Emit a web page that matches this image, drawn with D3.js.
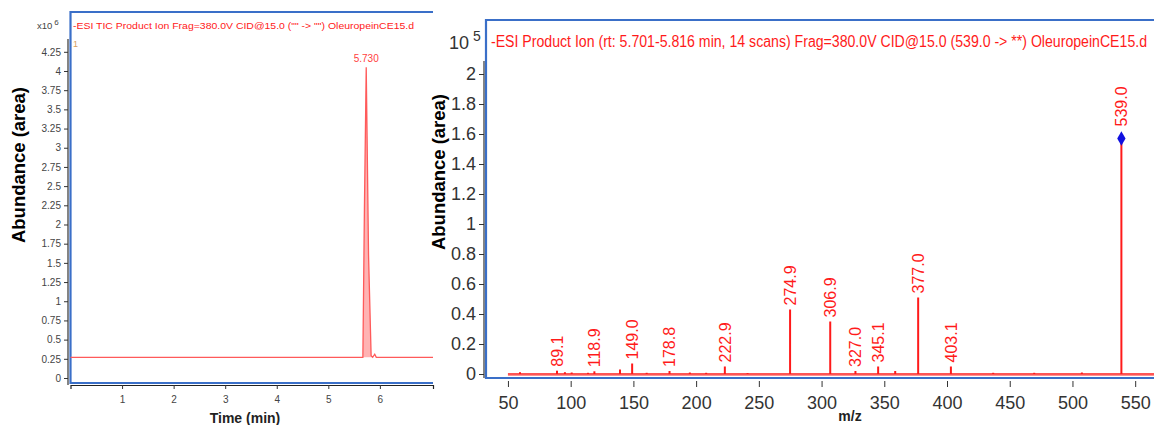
<!DOCTYPE html>
<html>
<head>
<meta charset="utf-8">
<script src="https://cdn.jsdelivr.net/npm/d3@7"></script>
<style>
  body { margin: 0; background: #fff; }
  svg { display: block; }
  .tl text { font-family: "Liberation Sans", Arial, sans-serif; font-size: 10px; fill: #444; }
  .tr text { font-family: "Liberation Sans Narrow", "Arial Narrow", sans-serif; font-size: 18px; fill: #333; }
  .tl line, .tr line { stroke: #333; }
</style>
</head>
<body>
<div id="chart"></div>
<script>
// left: TIC chromatogram (x10^6)
var ticTime  = [0, 5.67, 5.70, 5.735, 5.78, 5.83, 5.86, 5.90, 5.93, 7.03]
var ticAbund = [0.27, 0.27, 2.2, 4.05, 1.6, 0.29, 0.27, 0.31, 0.27, 0.27]
var ticYTicks = [0, 0.25, 0.5, 0.75, 1, 1.25, 1.5, 1.75, 2, 2.25, 2.5, 2.75, 3, 3.25, 3.5, 3.75, 4, 4.25]
var ticXTicks = [1, 2, 3, 4, 5, 6]

// right: product ion spectrum (x10^5)
var specMz  = [59.6, 89.1, 95.4, 100.8, 113.8, 118.9, 139.3, 149.0, 160.6, 178.8, 195.0, 208.0, 222.9, 241.0,
               274.9, 306.9, 327.0, 345.1, 358.7, 377.0, 403.1, 436.8, 469.5, 507.5, 539.0]
var specInt = [0.012, 0.022, 0.012, 0.01, 0.008, 0.018, 0.03, 0.07, 0.008, 0.02, 0.01, 0.008, 0.05, 0.006,
               0.43, 0.35, 0.02, 0.05, 0.02, 0.51, 0.05, 0.008, 0.008, 0.01, 1.57]
var labelMz = [89.1, 118.9, 149.0, 178.8, 222.9, 274.9, 306.9, 327.0, 345.1, 377.0, 403.1, 539.0]
var specYTicks = [0, 0.2, 0.4, 0.6, 0.8, 1, 1.2, 1.4, 1.6, 1.8, 2]
var specXTicks = [50, 100, 150, 200, 250, 300, 350, 400, 450, 500, 550]

var blue = "#3a6fc8", red = "#ff1a1a"

var svg = d3.select("#chart").append("svg")
    .attr("width", 1154).attr("height", 425)

// ---------- left panel ----------
var xL = d3.scaleLinear().domain([0, 7.03]).range([70.5, 433])
var yL = d3.scaleLinear().domain([0, 4.25]).range([378, 51.8])

svg.append("g").attr("class", "tl")
  .attr("transform", "translate(68,0)")
  .call(d3.axisLeft(yL).tickValues(ticYTicks).tickSize(4).tickSizeOuter(0).tickFormat(function(d){ return String(d) }))
  .call(function(g){ g.select(".domain").remove() })
svg.append("line").attr("x1", 68).attr("x2", 68).attr("y1", 39).attr("y2", 385).attr("stroke", "#333").attr("stroke-width", 1.2)

svg.append("g").attr("class", "tl")
  .attr("transform", "translate(0,385)")
  .call(d3.axisBottom(xL).tickValues(ticXTicks).tickSize(4).tickFormat(d3.format("d")))
  .call(function(g){ g.select(".domain").attr("stroke", "#222").attr("stroke-width", 1.2) })
  .selectAll("text").attr("dy", "1.1em")

// frame
svg.append("path").attr("fill", "none").attr("stroke", blue).attr("stroke-width", 2.2)
  .attr("d", "M433,12 H70.5 V383 H433")

// peak fill
var peakIdx = d3.range(1, 7)
svg.append("path")
  .datum(peakIdx)
  .attr("fill", "#ff9a9a").attr("fill-opacity", 0.75)
  .attr("d", d3.area().x(function(i){ return xL(ticTime[i]) }).y0(yL(0.27)).y1(function(i){ return yL(ticAbund[i]) }))

svg.append("path")
  .datum(d3.range(ticTime.length))
  .attr("fill", "none").attr("stroke", "#ff5a5a").attr("stroke-width", 1.3)
  .attr("d", d3.line().x(function(i){ return xL(ticTime[i]) }).y(function(i){ return yL(ticAbund[i]) }))

svg.append("text").attr("x", xL(5.735)).attr("y", yL(4.05) - 5)
  .attr("text-anchor", "middle").attr("font-family", "Liberation Sans, Arial").attr("font-size", 10)
  .attr("fill", "#ff4040").text("5.730")

svg.append("text").attr("x", 73).attr("y", 29).attr("font-family", "Liberation Sans, Arial")
  .attr("font-size", 9.5).attr("fill", "#ff2020")
  .attr("textLength", 341).attr("lengthAdjust", "spacingAndGlyphs")
  .text('-ESI TIC Product Ion Frag=380.0V CID@15.0 ("" -> "") OleuropeinCE15.d')
svg.append("text").attr("x", 73).attr("y", 47).attr("font-family", "Liberation Sans, Arial")
  .attr("font-size", 9).attr("fill", "#d8a060").text("1")

var expL = svg.append("text").attr("x", 37).attr("y", 29).attr("font-family", "Liberation Sans, Arial")
  .attr("font-size", 9.5).attr("fill", "#444")
expL.append("tspan").text("x10")
expL.append("tspan").attr("dx", 2).attr("dy", -4).attr("font-size", 8).text("6")

svg.append("text").attr("transform", "translate(25,165) rotate(-90)")
  .attr("text-anchor", "middle").attr("font-family", "Liberation Sans, Arial").attr("font-weight", "bold")
  .attr("font-size", 18).attr("textLength", 156).attr("lengthAdjust", "spacingAndGlyphs")
  .text("Abundance (area)")
svg.append("text").attr("x", 245).attr("y", 423)
  .attr("text-anchor", "middle").attr("font-family", "Liberation Sans, Arial").attr("font-weight", "bold")
  .attr("font-size", 14).attr("fill", "#222").text("Time (min)")

// ---------- right panel ----------
var xR = d3.scaleLinear().domain([32.5, 565]).range([486, 1154])
var yR = d3.scaleLinear().domain([0, 2]).range([374, 74])

svg.append("g").attr("class", "tr")
  .attr("transform", "translate(484,0)")
  .call(d3.axisLeft(yR).tickValues(specYTicks).tickSize(5).tickFormat(function(d){ return String(+d.toFixed(1)) }))
  .call(function(g){ g.select(".domain").remove() })
svg.append("line").attr("x1", 484).attr("x2", 484).attr("y1", 61).attr("y2", 378).attr("stroke", "#333").attr("stroke-width", 1.2)

svg.append("g").attr("class", "tr")
  .attr("transform", "translate(0,381)")
  .call(d3.axisBottom(xR).tickValues(specXTicks).tickSize(6).tickFormat(d3.format("d")))
  .call(function(g){ g.select(".domain").remove() })
  .selectAll("text").attr("dy", "1.05em")

svg.append("path").attr("fill", "none").attr("stroke", blue).attr("stroke-width", 2.2)
  .attr("d", "M1154,20 H486 V378 H1154")

// baseline band
svg.append("line").attr("x1", xR(50)).attr("x2", 1154).attr("y1", yR(0) + 0.5).attr("y2", yR(0) + 0.5)
  .attr("stroke", "#ff9090").attr("stroke-width", 3)
svg.append("line").attr("x1", xR(50)).attr("x2", 1154).attr("y1", yR(0)).attr("y2", yR(0))
  .attr("stroke", red).attr("stroke-width", 1)

svg.selectAll(".stick")
  .data(specMz)
  .enter()
  .append("line")
  .attr("class", "stick")
  .attr("x1", function(d){ return xR(d) }).attr("x2", function(d){ return xR(d) })
  .attr("y1", yR(0))
  .attr("y2", function(d, i){ return yR(specInt[i]) })
  .attr("stroke", red).attr("stroke-width", 2)

svg.selectAll(".pklabel")
  .data(labelMz)
  .enter()
  .append("text")
  .attr("class", "pklabel")
  .attr("transform", function(d){
    var v = specInt[specMz.indexOf(d)]
    var off = d === 539.0 ? 12 : 4
    return "translate(" + xR(d) + "," + (yR(v) - off) + ") rotate(-90)"
  })
  .attr("dy", "0.36em")
  .attr("font-family", "Liberation Sans, Arial").attr("font-size", 16).attr("fill", red)
  .text(function(d){ return d.toFixed(1) })

// base peak marker
var baseIdx = specMz.length - 1
svg.append("path")
  .attr("transform", "translate(" + xR(specMz[baseIdx]) + "," + yR(specInt[baseIdx]) + ")")
  .attr("d", d3.symbol().type(d3.symbolDiamond).size(60))
  .attr("fill", "#1010e0")

svg.append("text").attr("x", 491).attr("y", 47)
  .attr("font-family", "Liberation Sans Narrow, Arial Narrow, sans-serif").attr("font-size", 16).attr("fill", red)
  .attr("textLength", 656).attr("lengthAdjust", "spacingAndGlyphs")
  .text("-ESI Product Ion (rt: 5.701-5.816 min, 14 scans) Frag=380.0V CID@15.0 (539.0 -> **) OleuropeinCE15.d")

var expR = svg.append("text").attr("x", 449).attr("y", 49)
  .attr("font-family", "Liberation Sans Narrow, Arial Narrow, sans-serif").attr("font-size", 18).attr("fill", "#333")
expR.append("tspan").text("10")
expR.append("tspan").attr("dx", 4).attr("dy", -8).attr("font-size", 14).text("5")

svg.append("text").attr("transform", "translate(445,172) rotate(-90)")
  .attr("text-anchor", "middle").attr("font-family", "Liberation Sans, Arial").attr("font-weight", "bold")
  .attr("font-size", 18).attr("textLength", 156).attr("lengthAdjust", "spacingAndGlyphs")
  .text("Abundance (area)")
svg.append("text").attr("x", 850).attr("y", 421)
  .attr("text-anchor", "middle").attr("font-family", "Liberation Sans, Arial").attr("font-weight", "bold")
  .attr("font-size", 14).attr("fill", "#222").text("m/z")
</script>
</body>
</html>
